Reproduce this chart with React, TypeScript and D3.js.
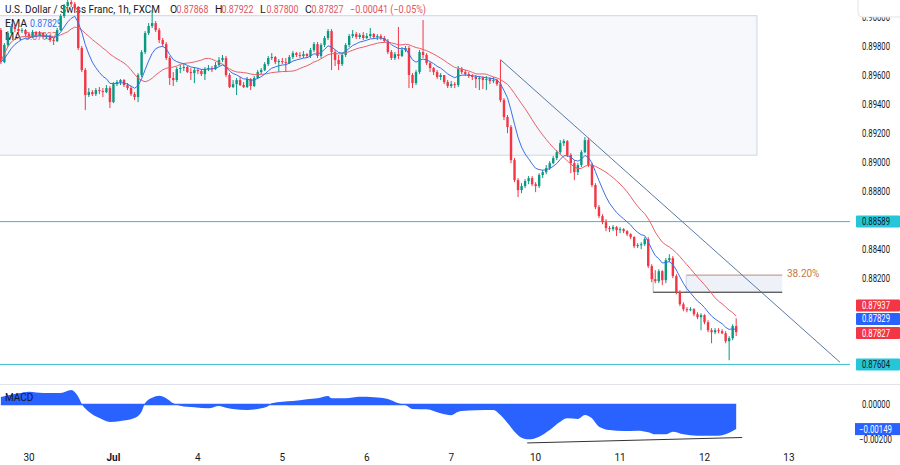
import React from "react";
import * as d3 from "d3";

// ---------- DATA ----------
const startBar = -8; // hourly bars, 0 = 30 Jun 00:00 (weekends skipped)
const firstOpen = 0.8991;
const closes = [
  0.89689, 0.89807, 0.89889, 0.89931, 0.89917, 0.89903, 0.8991, 0.89882,
  0.89862, 0.89896, 0.89876, 0.89889, 0.89862, 0.89869, 0.89841, 0.89834,
  0.8991, 0.90007, 0.90076, 0.90103, 0.90089, 0.90062, 0.89786, 0.89634,
  0.89462, 0.89482, 0.89468, 0.89496, 0.89489, 0.89482, 0.8951, 0.89413,
  0.89537, 0.89551, 0.89565, 0.89531, 0.8951, 0.89468, 0.89448, 0.896,
  0.89758, 0.89889, 0.89938, 0.89958, 0.8991, 0.89841, 0.89813, 0.89717,
  0.89579, 0.89565, 0.89641, 0.89648, 0.89655, 0.8962, 0.89613, 0.89634,
  0.89627, 0.89606, 0.89641, 0.89648, 0.89641, 0.89669, 0.89703, 0.89717,
  0.896, 0.89517, 0.89537, 0.89565, 0.89531, 0.89517, 0.89572, 0.89524,
  0.89579, 0.8962, 0.89634, 0.89675, 0.89717, 0.89724, 0.89689, 0.89696,
  0.89689, 0.89682, 0.89724, 0.89751, 0.89738, 0.89731, 0.89744, 0.89731,
  0.89772, 0.89813, 0.89731, 0.89807, 0.89855, 0.89903, 0.89758, 0.89703,
  0.89675, 0.89738, 0.89807, 0.89869, 0.89882, 0.89862, 0.89876, 0.89855,
  0.89869, 0.89882, 0.89862, 0.89869, 0.89855, 0.89834, 0.89758, 0.89717,
  0.89744, 0.89731, 0.89772, 0.89786, 0.896, 0.89544, 0.8962, 0.89758,
  0.89738, 0.89682, 0.89648, 0.8962, 0.89586, 0.896, 0.89551, 0.89524,
  0.89537, 0.89531, 0.89641, 0.8962, 0.89606, 0.89593, 0.89586, 0.89572,
  0.89579, 0.89565, 0.89572, 0.89558, 0.89565, 0.89537, 0.89427, 0.8931,
  0.89241, 0.89013, 0.88875, 0.88806, 0.88834, 0.88868, 0.88889, 0.88847,
  0.88834, 0.8891, 0.8893, 0.88958, 0.88992, 0.89027, 0.89068, 0.8913,
  0.89144, 0.89048, 0.88992, 0.8893, 0.88979, 0.89068, 0.89151, 0.88979,
  0.88841, 0.88689, 0.88627, 0.88585, 0.88544, 0.88537, 0.88551, 0.8853,
  0.88537, 0.88523, 0.88502, 0.88482, 0.8842, 0.88427, 0.88433, 0.88468,
  0.88282, 0.88192, 0.88178, 0.88247, 0.88185, 0.88323, 0.88337, 0.88213,
  0.88102, 0.88019, 0.87985, 0.87978, 0.87985, 0.8795, 0.8793, 0.87944,
  0.87895, 0.8784, 0.87826, 0.8784, 0.87833, 0.87819, 0.87764, 0.87785,
  0.87868, 0.87827,
];
const highs = [
  0.89924, 0.8982, 0.89903, 0.89951, 0.89945, 0.89931, 0.89924, 0.89917,
  0.89896, 0.8991, 0.89903, 0.89903, 0.89896, 0.89882, 0.89876, 0.89855,
  0.89924, 0.9002, 0.90089, 0.90131, 0.90117, 0.90103, 0.90076, 0.898,
  0.89648, 0.8951, 0.89496, 0.8951, 0.89517, 0.8951, 0.89531, 0.89524,
  0.89551, 0.89565, 0.89572, 0.89572, 0.89544, 0.89524, 0.89482, 0.89613,
  0.89772, 0.89903, 0.89958, 0.90048, 0.89972, 0.89924, 0.89855, 0.89827,
  0.89731, 0.8962, 0.89655, 0.89669, 0.89675, 0.89662, 0.89648, 0.89655,
  0.89648, 0.89641, 0.89655, 0.89669, 0.89662, 0.89689, 0.89724, 0.89738,
  0.89731, 0.89613, 0.89565, 0.89579, 0.89586, 0.89551, 0.89586, 0.89579,
  0.89593, 0.89634, 0.89648, 0.89689, 0.89731, 0.89751, 0.89731, 0.8971,
  0.89717, 0.89717, 0.89738, 0.89765, 0.89758, 0.89758, 0.89765, 0.89751,
  0.89786, 0.89827, 0.89827, 0.8982, 0.89869, 0.89917, 0.89917, 0.89772,
  0.89738, 0.89751, 0.8982, 0.89882, 0.8991, 0.89896, 0.89889, 0.89896,
  0.89889, 0.89924, 0.89889, 0.89882, 0.89882, 0.89869, 0.89848, 0.89772,
  0.89758, 0.89931, 0.89793, 0.898, 0.898, 0.89613, 0.89634, 0.89772,
  0.89979, 0.89751, 0.89689, 0.89655, 0.89634, 0.89613, 0.896, 0.89565,
  0.89558, 0.89551, 0.89662, 0.89655, 0.89634, 0.8962, 0.89606, 0.896,
  0.89593, 0.89593, 0.89593, 0.89586, 0.89586, 0.89572, 0.89703, 0.89441,
  0.89324, 0.89255, 0.89027, 0.88889, 0.88854, 0.88882, 0.88903, 0.88903,
  0.88861, 0.88923, 0.88944, 0.88979, 0.89006, 0.89041, 0.89082, 0.89151,
  0.89158, 0.89151, 0.89061, 0.89013, 0.88992, 0.89082, 0.89172, 0.89165,
  0.88992, 0.88854, 0.88703, 0.8864, 0.88606, 0.88558, 0.88565, 0.88558,
  0.88551, 0.88544, 0.8853, 0.88509, 0.88489, 0.8844, 0.88447, 0.88482,
  0.88482, 0.88295, 0.88254, 0.88261, 0.88254, 0.88337, 0.88364, 0.88351,
  0.88226, 0.88116, 0.88033, 0.87999, 0.87999, 0.87992, 0.87964, 0.87957,
  0.8795, 0.87909, 0.87854, 0.87854, 0.87854, 0.87847, 0.87833, 0.87799,
  0.87881, 0.87922,
];
const lows = [
  0.89675, 0.89682, 0.89793, 0.89876, 0.89896, 0.89882, 0.89889, 0.89869,
  0.89848, 0.89855, 0.89862, 0.89869, 0.89848, 0.89848, 0.89827, 0.89807,
  0.89827, 0.89903, 0.89993, 0.90062, 0.90069, 0.90048, 0.89772, 0.8962,
  0.89358, 0.89448, 0.89455, 0.89455, 0.89468, 0.89448, 0.89475, 0.89372,
  0.89406, 0.89524, 0.89531, 0.89517, 0.89496, 0.89455, 0.89427, 0.89413,
  0.89586, 0.89744, 0.89876, 0.89924, 0.89896, 0.8982, 0.89793, 0.89703,
  0.89531, 0.89524, 0.89551, 0.89613, 0.89627, 0.89613, 0.89565, 0.89544,
  0.89606, 0.89593, 0.89565, 0.89627, 0.8962, 0.89634, 0.89662, 0.89689,
  0.89586, 0.8951, 0.8951, 0.89462, 0.89524, 0.8951, 0.8951, 0.89496,
  0.89517, 0.89572, 0.89606, 0.89627, 0.89662, 0.89703, 0.89675, 0.8962,
  0.89675, 0.8962, 0.89675, 0.8971, 0.89724, 0.89717, 0.89717, 0.89717,
  0.89717, 0.89758, 0.89717, 0.89717, 0.89793, 0.89841, 0.89634, 0.89662,
  0.89634, 0.89662, 0.89724, 0.89793, 0.89855, 0.89848, 0.89848, 0.89841,
  0.89848, 0.89855, 0.89848, 0.89841, 0.89841, 0.89827, 0.89744, 0.89703,
  0.89703, 0.8971, 0.89724, 0.89758, 0.8951, 0.8951, 0.89531, 0.89606,
  0.89717, 0.89669, 0.8962, 0.896, 0.89572, 0.89565, 0.89537, 0.8951,
  0.8951, 0.8951, 0.89517, 0.89606, 0.89593, 0.89579, 0.89565, 0.8951,
  0.89496, 0.89503, 0.89496, 0.89537, 0.89544, 0.89524, 0.89413, 0.89289,
  0.89199, 0.88992, 0.88861, 0.88758, 0.88785, 0.8882, 0.88847, 0.88834,
  0.88792, 0.8882, 0.88889, 0.88916, 0.88944, 0.88985, 0.89013, 0.89054,
  0.8911, 0.89034, 0.88923, 0.88875, 0.8891, 0.88965, 0.89061, 0.88965,
  0.88827, 0.88675, 0.88613, 0.88571, 0.88523, 0.88516, 0.88523, 0.88489,
  0.88509, 0.88509, 0.88489, 0.88468, 0.88406, 0.88406, 0.88399, 0.8842,
  0.88268, 0.88171, 0.88164, 0.88164, 0.88151, 0.88164, 0.88309, 0.88199,
  0.88088, 0.88006, 0.87971, 0.87964, 0.87971, 0.87937, 0.87916, 0.8784,
  0.87881, 0.87826, 0.8775, 0.87812, 0.87819, 0.87812, 0.8775, 0.87633,
  0.87771, 0.878,
];

const macdBars = [
  -8, -3, 0, 4, 9, 12, 14, 15, 17, 20, 23, 26, 30, 32, 33, 35, 37, 39, 41, 43,
  47, 51, 54, 56, 58, 62, 66, 68, 69, 72, 75, 79, 82, 85, 86, 90, 94, 98, 102,
  105, 107, 109, 113, 117, 120, 122, 123, 127, 132, 134, 136, 138, 140, 142,
  145, 148, 151, 153, 156, 158, 160, 162, 165, 169, 173, 176, 178, 181, 183,
  186, 190, 196, 198, 200, 201,
];
const macdValues = [
  0.00045, 0.00068, 0.00078, 0.0007, 0.0007, 0.00088, 0.00047, 0.00003,
  -0.00044, -0.00082, -0.00106, -0.001, -0.00082, -0.00044, 0.00009, 0.00041,
  0.00053, 0.00038, 0.00007, -0.00007, -0.00017, -0.00023, -0.00009, -0.00019,
  -0.00027, -0.00033, -0.00023, -0.00009, 0.00007, 0.00017, 0.00021, 0.00032,
  0.00038, 0.00052, 0.00038, 0.00038, 0.00047, 0.00044, 0.00033, 0.00007,
  -0.00003, -0.00027, -0.00029, -0.00053, -0.00065, -0.00044, -0.00039,
  -0.00035, -0.00033, -0.00064, -0.00112, -0.00165, -0.00201, -0.00211,
  -0.00195, -0.00155, -0.00104, -0.00084, -0.00088, -0.00064, -0.00084,
  -0.00135, -0.00155, -0.00161, -0.00159, -0.00168, -0.00181, -0.00181,
  -0.00165, -0.00181, -0.00189, -0.00189, -0.00181, -0.00161, -0.00149,
];

const dayLabels = ["30", "Jul", "4", "5", "6", "7", "10", "11", "12", "13"];
const dayStartBars = [0, 24, 48, 72, 96, 120, 144, 168, 192, 216];

const levelLines = [0.88589, 0.87604];
const trendLine: [number, number][] = [[134, 0.89706], [230.5, 0.87619]];
const rangeBox = { b0: -10, b1: 206.9, p0: 0.90009, p1: 0.89047 };
const fib = { b0: 177.4, bBox: 186.8, b1: 214.1, top: 0.8822, base: 0.88102, vTop: 0.88235 };
const divergence: [number, number][] = [[141.6, -0.00233], [202.7, -0.002]];

const EMA_LEN = 9;
const MA_LEN = 20;

const header = "U.S. Dollar / Swiss Franc, 1h, FXCM";
const ohlcText = [
  { k: "O", v: "0.87868" },
  { k: "H", v: "0.87922" },
  { k: "L", v: "0.87800" },
  { k: "C", v: "0.87827" },
];
const changeText = "\u22120.00041 (\u22120.05%)";

const FONT = "Roboto, 'Noto Sans', Arial, sans-serif";
const DARK = "#131722";
const UP = "#089981";
const DOWN = "#f23645";
const EMA_C = "#3b6fe6";
const MA_C = "#e8606a";
const CYAN = "#38bccd";

export default function App() {
  const x = d3.scaleLinear().domain([0, 24]).range([29, 29 + 84.44]);
  const y = d3.scaleLinear().domain([0.88, 0.89]).range([307, 162]);
  const ym = d3.scaleLinear().domain([-0.002, 0]).range([437.5, 404.5]);

  const bars = closes.map((c, k) => ({
    i: startBar + k,
    o: k === 0 ? firstOpen : closes[k - 1],
    c,
    h: highs[k],
    l: lows[k],
  }));

  // indicators
  const a = 2 / (EMA_LEN + 1);
  const ema: [number, number][] = [];
  let e = closes[0];
  closes.forEach((c, k) => {
    e = k === 0 ? c : a * c + (1 - a) * e;
    ema.push([startBar + k, e]);
  });
  const ma: [number, number][] = closes.map((c, k) => {
    const s = closes.slice(Math.max(0, k - MA_LEN + 1), k + 1);
    return [startBar + k, d3.mean(s) as number];
  });
  const line = d3
    .line<[number, number]>()
    .x((d) => x(d[0]))
    .y((d) => y(d[1]));

  const macd = macdBars.map((b, k) => [b, macdValues[k]] as [number, number]);
  const area = d3
    .area<[number, number]>()
    .x((d) => x(d[0]))
    .y0(ym(0))
    .y1((d) => ym(d[1]))
    .curve(d3.curveMonotoneX);

  const bw = 2.4;

  const tagBoxes = [
    { v: 0.88589, bg: "#26c6da", fg: DARK, dy: 0 },
    { v: 0.87604, bg: "#26c6da", fg: DARK, dy: 0 },
    { v: 0.87937, bg: DOWN, fg: "#fff", dy: -10.6 },
    { v: 0.87829, bg: "#2962ff", fg: "#fff", dy: -12.8 },
    { v: 0.87827, bg: DOWN, fg: "#fff", dy: 1 },
  ];
  const tagCenters = tagBoxes.map((t) => y(t.v) + t.dy);
  // ticks hidden behind the value tags are not drawn
  const priceTicks = d3
    .range(0.876, 0.9001, 0.002)
    .filter((p) => tagCenters.every((c) => Math.abs(y(p) - c) > 9));

  return (
    <svg width={900} height={465} style={{ display: "block", position: "absolute", left: 0, top: 0 }} fontFamily={FONT}>
      <defs>
        <clipPath id="mainClip">
          <rect x={0} y={0} width={850} height={384} />
        </clipPath>
        <clipPath id="macdClip">
          <rect x={0} y={386} width={850} height={60} />
        </clipPath>
      </defs>
      <rect x={0} y={0} width={900} height={465} fill="#fff" />

      {/* range rectangle */}
      <g clipPath="url(#mainClip)">
        <rect
          x={x(rangeBox.b0)}
          y={y(rangeBox.p0)}
          width={x(rangeBox.b1) - x(rangeBox.b0)}
          height={y(rangeBox.p1) - y(rangeBox.p0)}
          fill="#f6f8fc"
          stroke="#cdd6e2"
          strokeWidth={1}
        />
      </g>

      {/* header + legend */}
      <text x={5} y={13} fontSize={10.5} fill={DARK} textLength={155} lengthAdjust="spacingAndGlyphs">
        {header}
      </text>
      {ohlcText.map((d, k) => {
        const xs = [170, 215, 260, 305][k];
        return (
          <g key={d.k}>
            <text x={xs} y={13} fontSize={10.5} fill={DARK}>
              {d.k}
            </text>
            <text x={xs + 6.5} y={13} fontSize={10.5} fill="#e0535c" textLength={32} lengthAdjust="spacingAndGlyphs">
              {d.v}
            </text>
          </g>
        );
      })}
      <text x={350} y={13} fontSize={10.5} fill="#e0535c" textLength={76} lengthAdjust="spacingAndGlyphs">
        {changeText}
      </text>
      <text x={5} y={27} fontSize={10.5} fill={DARK}>EMA</text>
      <text x={30} y={27} fontSize={10.5} fill={EMA_C} textLength={32} lengthAdjust="spacingAndGlyphs">0.87829</text>
      <text x={5} y={40} fontSize={10.5} fill={DARK}>MA</text>
      <text x={25} y={40} fontSize={10.5} fill={MA_C} textLength={32} lengthAdjust="spacingAndGlyphs">0.87937</text>

      <g clipPath="url(#mainClip)">
        {/* horizontal levels */}
        {levelLines.map((p) => (
          <line key={p} x1={0} x2={856} y1={y(p)} y2={y(p)} stroke={CYAN} strokeWidth={1} />
        ))}

        {/* fib box */}
        <rect
          x={x(fib.bBox)}
          y={y(fib.top)}
          width={x(fib.b1) - x(fib.bBox)}
          height={y(fib.base) - y(fib.top)}
          fill="#eef2f8"
          stroke="none"
        />
        <line x1={x(fib.bBox)} x2={x(fib.b1)} y1={y(fib.top)} y2={y(fib.top)} stroke="#b98a7c" strokeWidth={1} />
        <line x1={x(fib.bBox)} x2={x(fib.bBox)} y1={y(fib.top)} y2={y(fib.base)} stroke="#c9d1dc" strokeWidth={1} />
        <line x1={x(fib.b0)} x2={x(fib.b0)} y1={y(fib.vTop)} y2={y(fib.base)} stroke="#b9bfc8" strokeWidth={1} />
        <line x1={x(fib.b0)} x2={x(fib.b1)} y1={y(fib.base)} y2={y(fib.base)} stroke="#222" strokeWidth={1} />

        {/* candles */}
        {bars.map((b) => {
          const up = b.c >= b.o;
          const col = up ? UP : DOWN;
          const cx = x(b.i);
          const top = y(Math.max(b.o, b.c));
          const bot = y(Math.min(b.o, b.c));
          return (
            <g key={b.i}>
              <line x1={cx} x2={cx} y1={y(b.h)} y2={y(b.l)} stroke={col} strokeWidth={1} />
              <rect x={cx - bw / 2} y={top} width={bw} height={Math.max(1, bot - top)} fill={col} />
            </g>
          );
        })}

        {/* MA & EMA */}
        <path d={line(ma) || ""} fill="none" stroke={MA_C} strokeWidth={1} />
        <path d={line(ema) || ""} fill="none" stroke={EMA_C} strokeWidth={1} />

        {/* trend line */}
        <line
          x1={x(trendLine[0][0])}
          y1={y(trendLine[0][1])}
          x2={x(trendLine[1][0])}
          y2={y(trendLine[1][1])}
          stroke="#5a78a6"
          strokeWidth={1}
        />
      </g>
      <text x={787} y={277} fontSize={10} fill="#c9783e">38.20%</text>

      {/* price axis */}
      {priceTicks.map((p) => (
        <text key={p} x={862} y={y(p) + 3.5} fontSize={10} fill={DARK} textLength={28} lengthAdjust="spacingAndGlyphs">
          {d3.format(".5f")(p)}
        </text>
      ))}
      {tagBoxes.map((t, k) => {
        const key = t.v.toFixed(5);
        const cy = tagCenters[k];
        return (
          <g key={key}>
            <rect x={856} y={cy - 6} width={44} height={12} fill={t.bg} rx={1} />
            <text x={862} y={cy + 3.5} fontSize={10} fill={t.fg} textLength={28} lengthAdjust="spacingAndGlyphs">
              {key}
            </text>
          </g>
        );
      })}
      <rect x={858} y={-6} width={50} height={23} rx={4} fill="#fff" stroke="#e0e3eb" />

      {/* separator */}
      <line x1={0} x2={900} y1={384.5} y2={384.5} stroke="#e0e3eb" strokeWidth={1} />

      {/* MACD pane */}
      <text x={38} y={401} fontSize={10} fill="#9aa3b0">0.00021</text>
      <g clipPath="url(#macdClip)">
        <path d={area(macd) || ""} fill="#2962ff" />
        <line x1={x(macdBars[0])} x2={x(macdBars[macdBars.length - 1])} y1={ym(0)} y2={ym(0)} stroke="#2962ff" strokeWidth={1.5} />
        <line
          x1={x(divergence[0][0])}
          y1={ym(divergence[0][1])}
          x2={x(divergence[1][0])}
          y2={ym(divergence[1][1])}
          stroke="#333"
          strokeWidth={1}
        />
      </g>
      <text x={5} y={401} fontSize={10} fill={DARK}>MACD</text>
      <text x={862} y={ym(0) + 3.5} fontSize={10} fill={DARK} textLength={28} lengthAdjust="spacingAndGlyphs">0.00000</text>
      <text x={859} y={ym(-0.002) + 5} fontSize={10} fill={DARK} textLength={33} lengthAdjust="spacingAndGlyphs">{"\u22120.00200"}</text>
      <rect x={855} y={ym(-0.00149) - 6} width={45} height={12} fill="#2962ff" />
      <text x={859} y={ym(-0.00149) + 3.5} fontSize={10} fill="#fff" textLength={33} lengthAdjust="spacingAndGlyphs">{"\u22120.00149"}</text>

      {/* time axis */}
      {dayLabels.map((l, k) => (
        <text
          key={l}
          x={x(dayStartBars[k])}
          y={461}
          fontSize={10}
          textAnchor="middle"
          fill={DARK}
          fontWeight={l === "Jul" ? "bold" : "normal"}
        >
          {l}
        </text>
      ))}
    </svg>
  );
}
